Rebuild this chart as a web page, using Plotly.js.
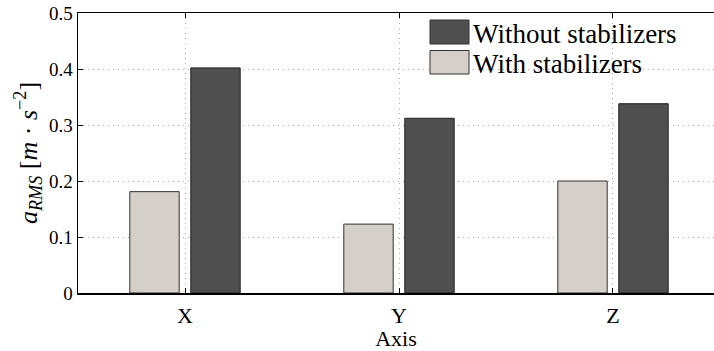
<!DOCTYPE html>
<html>
<head>
<meta charset="utf-8">
<script src="https://cdn.plot.ly/plotly-3.0.1.min.js"></script>
<style>html,body{margin:0;padding:0;overflow:hidden;background:#fff;}</style>
</head>
<body>
<div id="chart" style="width:714px;height:351px;"></div>
<script>
const categories = ["X", "Y", "Z"];
const seriesNames = ["With stabilizers", "Without stabilizers"];
const withStab = [0.181, 0.123, 0.200];
const withoutStab = [0.402, 0.312, 0.338];
const yTicks = [0, 0.1, 0.2, 0.3, 0.4, 0.5];
const yTickLabels = ["0", "0.1", "0.2", "0.3", "0.4", "0.5"];

const FONT = "Liberation Serif, Times New Roman, serif";
const lightCol = "#d4d0c9";
const darkCol = "#4f4f4f";

const traces = [
  {type: "bar", name: seriesNames[0], x: categories, y: withStab,
   marker: {color: lightCol, line: {color: "#333", width: 1}}},
  {type: "bar", name: seriesNames[1], x: categories, y: withoutStab,
   marker: {color: darkCol, line: {color: "#222", width: 1}}}
];

const L = 78, W = 636, T = 13, H = 280;
const px = v => (v - L) / W;
const py = v => (T + H - v) / H;

const legendItems = [
  {name: seriesNames[1], color: darkCol, y0: 20, y1: 44},
  {name: seriesNames[0], color: lightCol, y0: 50.5, y1: 74}
];

const shapes = legendItems.map(it => ({
  type: "rect", xref: "paper", yref: "paper",
  x0: px(430), x1: px(469), y0: py(it.y1), y1: py(it.y0),
  fillcolor: it.color, line: {color: "#333", width: 1}
}));
const annotations = legendItems.map(it => ({
  xref: "paper", yref: "paper", x: px(471), y: py((it.y0 + it.y1) / 2 + 2),
  xanchor: "left", yanchor: "middle", showarrow: false,
  text: it.name, font: {family: FONT, size: 27, color: "#000"}
}));

const layout = {
  width: 714, height: 351,
  margin: {l: L, r: 0, t: T, b: 351 - T - H},
  paper_bgcolor: "#fff", plot_bgcolor: "#fff",
  barmode: "group", bargap: 0.43, bargroupgap: 0.19,
  showlegend: false,
  font: {family: FONT, color: "#000"},
  xaxis: {
    type: "category", range: [-0.5, 2.472],
    showline: true, linecolor: "#000", linewidth: 1.5, mirror: "ticks",
    ticks: "inside", ticklen: 5, tickcolor: "#000", tickwidth: 1,
    showgrid: true, gridcolor: "#a8a8a8", griddash: "1px,4px", gridwidth: 1,
    tickfont: {family: FONT, size: 22, color: "#000"},
    ticklabelstandoff: 2,
    title: {text: "Axis", font: {family: FONT, size: 22, color: "#000"}, standoff: 0},
    zeroline: false, fixedrange: true
  },
  yaxis: {
    range: [0, 0.5], tickvals: yTicks, ticktext: yTickLabels,
    showline: true, linecolor: "#000", linewidth: 1.5, mirror: false,
    ticks: "inside", ticklen: 5, tickcolor: "#000", tickwidth: 1,
    showgrid: true, gridcolor: "#a8a8a8", griddash: "1px,4px", gridwidth: 1,
    tickfont: {family: FONT, size: 19, color: "#000"},
    title: {text: "<i>a</i><sub><i>RMS</i></sub> [<i>m</i> · <i>s</i><sup>−2</sup>]",
            font: {family: FONT, size: 26, color: "#000"}, standoff: 4},
    zeroline: false, fixedrange: true
  },
  shapes: shapes,
  annotations: annotations
};

Plotly.newPlot("chart", traces, layout, {displayModeBar: false, staticPlot: true});
</script>
</body>
</html>
